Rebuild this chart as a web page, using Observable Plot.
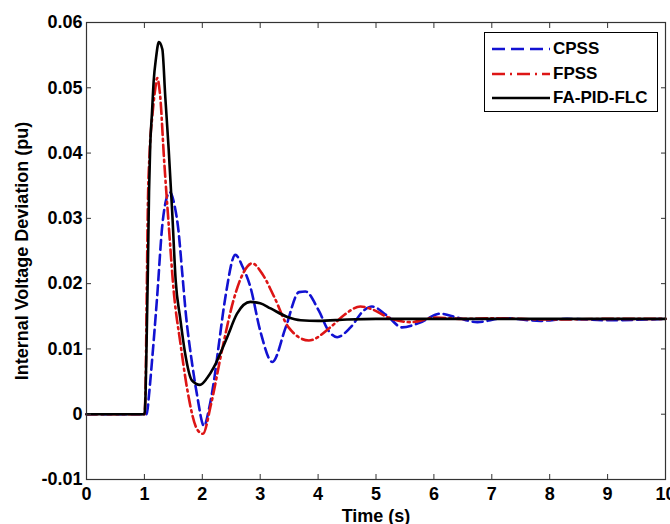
<!DOCTYPE html>
<html>
<head>
<meta charset="utf-8">
<script src="https://cdn.jsdelivr.net/npm/d3@7"></script>
<script src="https://cdn.jsdelivr.net/npm/@observablehq/plot@0.6"></script>
<style>
  body { margin: 0; background: white; }
  #wrap { position: relative; width: 670px; height: 524px; overflow: hidden; }
  #legend { position: absolute; left: 484px; top: 32px; width: 172px; height: 78px;
    border: 1px solid #000; background: #fff; font: bold 17px "Liberation Sans", Arial, sans-serif; color: #000; }
  #legend .row { position: absolute; left: 7px; height: 24px; display: flex; align-items: center; }
  #legend svg { width: 58px; height: 6px; margin-right: 3px; }
</style>
</head>
<body>
<div id="wrap"><div id="chart"></div><div id="legend"></div></div>
<script>
// Series names, colours and dash styles
const seriesNames = ["CPSS", "FPSS", "FA-PID-FLC"];
const seriesColors = ["#1212d2", "#dd1515", "#000000"];
const seriesDash = ["10,5", "11,4,2,4", null];

// CPSS (blue, dashed)
const tCPSS = [0, 1.04, 1.08, 1.13, 1.22, 1.31, 1.38, 1.44, 1.52, 1.59, 1.65, 1.72, 1.82, 1.91, 2.03, 2.12, 2.2, 2.28, 2.4, 2.57, 2.7, 2.83, 3.0, 3.21, 3.44, 3.67, 3.78, 4.01, 4.18, 4.33, 4.56, 4.79, 4.93, 5.19, 5.45, 5.75, 6.11, 6.4, 6.75, 7.2, 7.84, 8.3, 9, 10];
const vCPSS = [0, 0, 0.003, 0.008, 0.018, 0.029, 0.033, 0.034, 0.032, 0.028, 0.022, 0.015, 0.008, 0.0029, -0.0018, 0.001, 0.005, 0.0103, 0.018, 0.0244, 0.0225, 0.0195, 0.0128, 0.008, 0.0133, 0.0187, 0.0188, 0.0159, 0.0128, 0.0118, 0.0133, 0.0159, 0.0165, 0.0151, 0.0133, 0.0140, 0.0154, 0.0148, 0.0141, 0.0147, 0.0143, 0.0146, 0.0144, 0.0146];

// FPSS (red, dash-dot)
const tFPSS = [0, 1.0, 1.02, 1.04, 1.06, 1.09, 1.14, 1.19, 1.22, 1.27, 1.34, 1.42, 1.51, 1.62, 1.74, 1.91, 2.01, 2.15, 2.34, 2.54, 2.7, 2.86, 3.05, 3.24, 3.49, 3.84, 4.21, 4.45, 4.73, 4.95, 5.19, 5.6, 6.03, 6.5, 7, 8, 9, 10];
const vFPSS = [0, 0, 0.004, 0.018, 0.032, 0.040, 0.046, 0.050, 0.0515, 0.049, 0.039, 0.029, 0.0185, 0.011, 0.0038, -0.0023, -0.003, 0.0015, 0.0098, 0.0175, 0.0215, 0.0231, 0.0213, 0.018, 0.0133, 0.0113, 0.0133, 0.0152, 0.0165, 0.0160, 0.0149, 0.0141, 0.0148, 0.0146, 0.0147, 0.0145, 0.0146, 0.0146];

// FA-PID-FLC (black, solid)
const tFLC = [0, 1.0, 1.02, 1.04, 1.06, 1.08, 1.10, 1.13, 1.16, 1.20, 1.25, 1.31, 1.36, 1.42, 1.48, 1.54, 1.62, 1.70, 1.82, 1.96, 2.08, 2.2, 2.32, 2.43, 2.6, 2.83, 3.0, 3.18, 3.47, 3.7, 4.0, 4.5, 5.0, 6, 7, 8, 9, 10];
const vFLC = [0, 0, 0.003, 0.012, 0.022, 0.034, 0.041, 0.046, 0.051, 0.0545, 0.057, 0.0559, 0.0487, 0.0405, 0.031, 0.0205, 0.0146, 0.0095, 0.0052, 0.0045, 0.0055, 0.0072, 0.0095, 0.0118, 0.0154, 0.0172, 0.0170, 0.0162, 0.0149, 0.0144, 0.0143, 0.0145, 0.0146, 0.0146, 0.0146, 0.0146, 0.0146, 0.0146];

// Axis ticks and labels
const xTicks = [0, 1, 2, 3, 4, 5, 6, 7, 8, 9, 10];
const xTickLabels = ["0", "1", "2", "3", "4", "5", "6", "7", "8", "9", "10"];
const yTicks = [-0.01, 0, 0.01, 0.02, 0.03, 0.04, 0.05, 0.06];
const yTickLabels = ["-0.01", "0", "0.01", "0.02", "0.03", "0.04", "0.05", "0.06"];
const xLabel = "Time (s)";
const yLabel = "Internal Voltage Deviation (pu)";

const seriesT = [tCPSS, tFPSS, tFLC];
const seriesV = [vCPSS, vFPSS, vFLC];
const xInner = xTicks.slice(1, -1);
const yInner = yTicks.slice(1, -1);

const lines = seriesNames.map((name, k) => {
  const rows = seriesT[k].map((t, i) => ({t, v: seriesV[k][i]}));
  return Plot.line(rows, {x: "t", y: "v", stroke: seriesColors[k], strokeWidth: 2.6,
    strokeDasharray: seriesDash[k] || undefined, curve: "monotone-x"});
});

const chart = Plot.plot({
  width: 670, height: 524,
  marginLeft: 86, marginRight: 5, marginTop: 22, marginBottom: 45,
  style: {fontFamily: "'Liberation Sans', Arial, sans-serif", fontWeight: "bold", fontSize: "17px", color: "#000", background: "white"},
  x: {domain: [0, 10]},
  y: {domain: [-0.01, 0.06]},
  marks: [
    ...lines,
    Plot.frame({stroke: "#333", strokeWidth: 1.2}),
    Plot.axisX(xTicks, {anchor: "bottom", tickSize: 0, tickPadding: 8, fontSize: 18,
      tickFormat: d => xTickLabels[xTicks.indexOf(d)], label: xLabel, labelAnchor: "center", labelArrow: "none"}),
    Plot.axisY(yTicks, {anchor: "left", tickSize: 0, tickPadding: 4, fontSize: 18,
      tickFormat: d => yTickLabels[yTicks.indexOf(d)], label: null}),
    Plot.text([yLabel], {frameAnchor: "left", rotate: -90, dx: -64, fontSize: 18, fontWeight: "bold",
      lineWidth: 1000, fill: "#000", textAnchor: "middle"}),
    Plot.axisX(xInner, {anchor: "bottom", tickSize: -5, stroke: "#333", tickFormat: () => "", label: null}),
    Plot.axisX(xInner, {anchor: "top", tickSize: -5, stroke: "#333", tickFormat: () => "", label: null}),
    Plot.axisY(yInner, {anchor: "left", tickSize: -5, stroke: "#333", tickFormat: () => "", label: null}),
    Plot.axisY(yInner, {anchor: "right", tickSize: -5, stroke: "#333", tickFormat: () => "", label: null})
  ]
});
document.getElementById("chart").appendChild(chart);

// Legend
const legend = document.getElementById("legend");
seriesNames.forEach((name, k) => {
  const row = document.createElement("div");
  row.className = "row";
  row.style.top = (4 + k * 24.5) + "px";
  const dash = k === 0 ? "13,6" : k === 1 ? "13,5,2,5" : "none";
  row.innerHTML = `<svg viewBox="0 0 58 6"><line x1="0" y1="3" x2="58" y2="3" stroke="${seriesColors[k]}" stroke-width="2.6" stroke-dasharray="${dash}"/></svg><span>${name}</span>`;
  legend.appendChild(row);
});
</script>
</body>
</html>
